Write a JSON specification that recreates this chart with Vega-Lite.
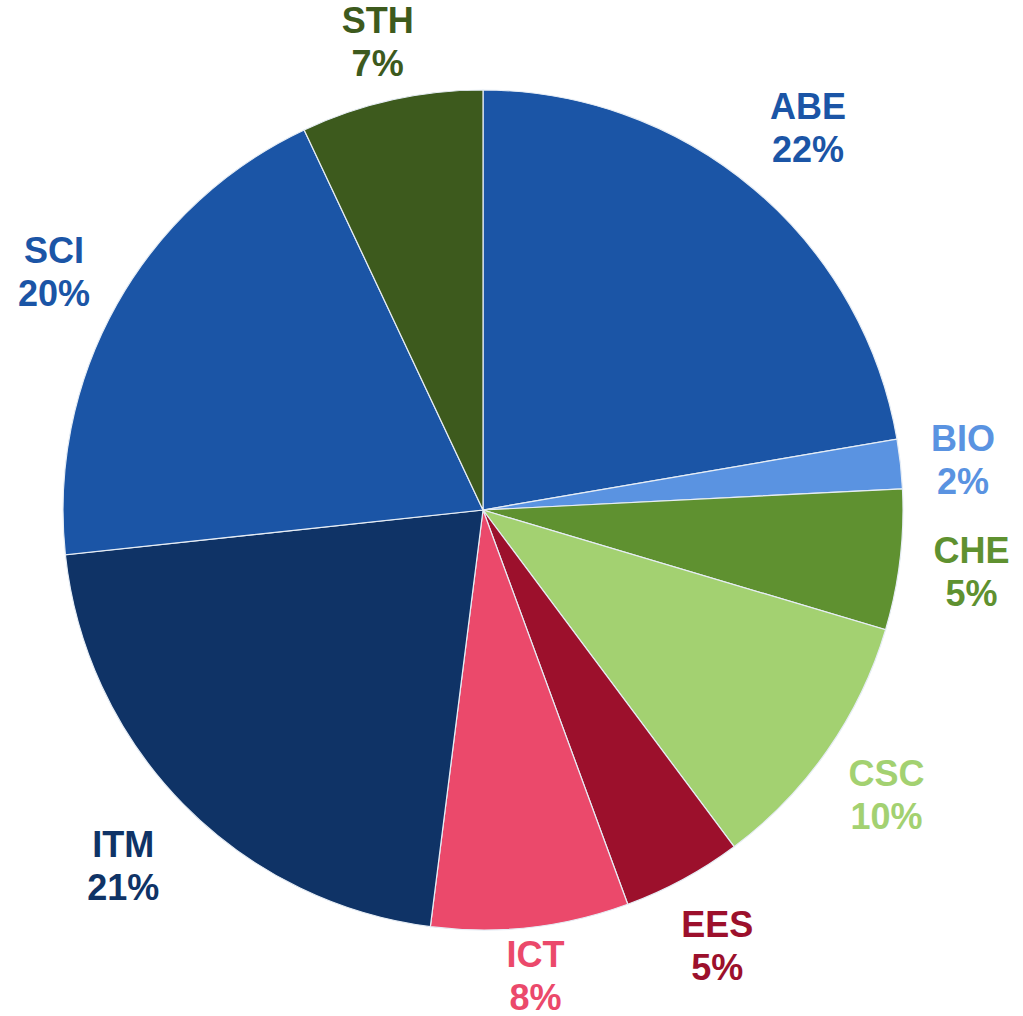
{
  "$schema": "https://vega.github.io/schema/vega-lite/v6.json",
  "width": 966,
  "height": 1020,
  "autosize": {"type": "none"},
  "padding": {"left": 0, "top": 0, "right": 57, "bottom": 0},
  "background": "white",
  "view": {"stroke": null},
  "data": {
    "values": [
      {"dept": "ABE", "value": 22.3, "label": "ABE\n22%"},
      {"dept": "BIO", "value": 1.9, "label": "BIO\n2%"},
      {"dept": "CHE", "value": 5.4, "label": "CHE\n5%"},
      {"dept": "CSC", "value": 10.2, "label": "CSC\n10%"},
      {"dept": "EES", "value": 4.6, "label": "EES\n5%"},
      {"dept": "ICT", "value": 7.6, "label": "ICT\n8%"},
      {"dept": "ITM", "value": 21.3, "label": "ITM\n21%"},
      {"dept": "SCI", "value": 19.7, "label": "SCI\n20%"},
      {"dept": "STH", "value": 7.0, "label": "STH\n7%"}
    ]
  },
  "encoding": {
    "theta": {"field": "value", "type": "quantitative", "stack": true},
    "color": {
      "field": "dept",
      "type": "nominal",
      "sort": null,
      "scale": {
        "domain": ["ABE", "BIO", "CHE", "CSC", "EES", "ICT", "ITM", "SCI", "STH"],
        "range": ["#1b55a6", "#5a93e1", "#5f9130", "#a3d171", "#9c102c", "#eb496b", "#0f3366", "#1b55a6", "#3d5a1d"]
      },
      "legend": null
    },
    "order": {"field": "dept", "type": "nominal"}
  },
  "layer": [
    {
      "mark": {"type": "arc", "outerRadius": 420, "stroke": "#e6edf5", "strokeWidth": 1.2}
    },
    {
      "mark": {
        "type": "text",
        "radius": 504,
        "font": "Liberation Sans",
        "fontWeight": "bold",
        "fontSize": 36,
        "lineHeight": 43,
        "lineBreak": "\n",
        "align": "center",
        "baseline": "middle",
        "dy": -17
      },
      "encoding": {
        "text": {"condition": {"test": "indexof(['ABE','ITM'], datum.dept) >= 0", "field": "label"}, "value": ""}
      }
    },
    {
      "mark": {
        "type": "text",
        "radius": 492,
        "font": "Liberation Sans",
        "fontWeight": "bold",
        "fontSize": 36,
        "lineHeight": 43,
        "lineBreak": "\n",
        "align": "center",
        "baseline": "middle",
        "dy": -17
      },
      "encoding": {
        "text": {"condition": {"test": "indexof(['CHE','CSC','EES','SCI'], datum.dept) >= 0", "field": "label"}, "value": ""}
      }
    },
    {
      "mark": {
        "type": "text",
        "radius": 483,
        "font": "Liberation Sans",
        "fontWeight": "bold",
        "fontSize": 36,
        "lineHeight": 43,
        "lineBreak": "\n",
        "align": "center",
        "baseline": "middle",
        "dy": -17
      },
      "encoding": {
        "text": {"condition": {"test": "indexof(['BIO','STH'], datum.dept) >= 0", "field": "label"}, "value": ""}
      }
    },
    {
      "mark": {
        "type": "text",
        "radius": 466,
        "font": "Liberation Sans",
        "fontWeight": "bold",
        "fontSize": 36,
        "lineHeight": 43,
        "lineBreak": "\n",
        "align": "center",
        "baseline": "middle",
        "dy": -17
      },
      "encoding": {
        "text": {"condition": {"test": "datum.dept === 'ICT'", "field": "label"}, "value": ""}
      }
    }
  ]
}
